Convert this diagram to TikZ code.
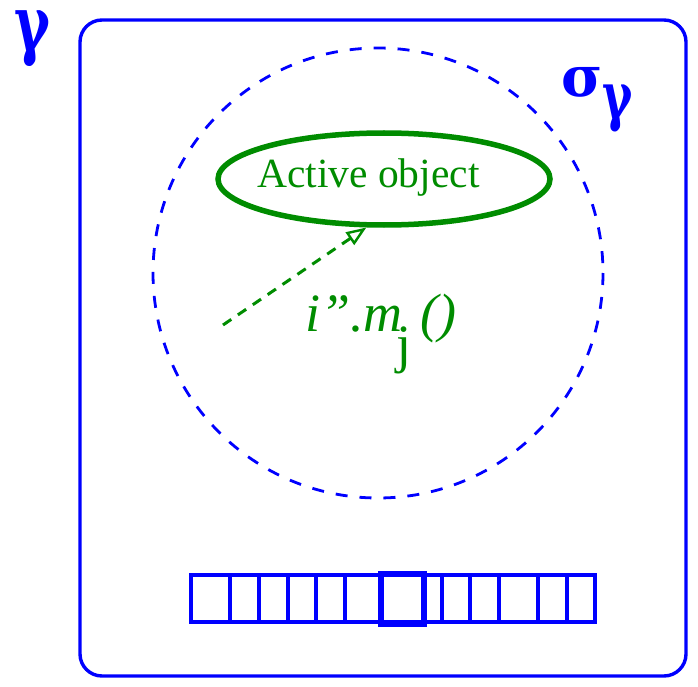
\documentclass[tikz,border=0pt]{standalone}
\usepackage{fontspec}
\setmainfont{Liberation Serif}
\newfontfamily\greekfont{DejaVu Serif}
\newcommand{\tallgamma}{\scalebox{0.85}[1.2]{γ}}
\usetikzlibrary{shapes.geometric, arrows.meta}
\definecolor{figblue}{RGB}{0,0,255}
\definecolor{figgreen}{RGB}{0,140,0}
\begin{document}
\begin{tikzpicture}[x=1pt, y=-1pt, blueline/.style={draw=figblue, line width=3.4pt}, bluetext/.style={text=figblue, inner sep=0pt, anchor=base west, font=\greekfont\bfseries\fontsize{64}{64}\selectfont}, greentext/.style={text=figgreen, inner sep=0pt, anchor=base west}]
	\useasboundingbox (0,0) rectangle (698,687);
	\draw[blueline, rounded corners=22pt] (80,20) rectangle (686,676);
	\node[bluetext] (gamma) at (14,51) {\tallgamma};
	\node[bluetext] (sigma) at (561,97) {{\fontsize{56}{56}\selectfont σ}\raisebox{-22pt}{\fontsize{54}{54}\selectfont\tallgamma}};
	\draw[figblue, line width=2.8pt, dash pattern=on 12pt off 12pt] (378,273) circle (225);
	\node[ellipse, draw=figgreen, line width=5.5pt, minimum width=332pt, minimum height=92pt] (obj) at (384,179) {};
	\node[greentext, font=\fontsize{41.5}{41.5}\selectfont] (objtext) at (257,187) {Active object};
	\coordinate (caller) at (223,325);
	\draw[figgreen, line width=3pt, dash pattern=on 10pt off 8pt, -{Triangle[open, length=20pt, width=15pt, line width=2.4pt]}] (caller) -- (obj.250);
	\node[greentext, font=\fontsize{54}{54}\selectfont\itshape] (call) at (305,331) {i”.m};
	\node[greentext, font=\fontsize{54}{54}\selectfont] (idx) at (396,362) {j};
	\node[greentext, font=\fontsize{54}{54}\selectfont\itshape] (args) at (420,331) {()};
	\draw[blueline] (191,575) rectangle (595,622);
	\foreach \xc in {230,259,288,316,345,442,470,499,538,567}
		\draw[blueline] (\xc,575) -- (\xc,622);
	\draw[figblue, line width=6pt] (381,574) rectangle (424,624);
\end{tikzpicture}
\end{document}
